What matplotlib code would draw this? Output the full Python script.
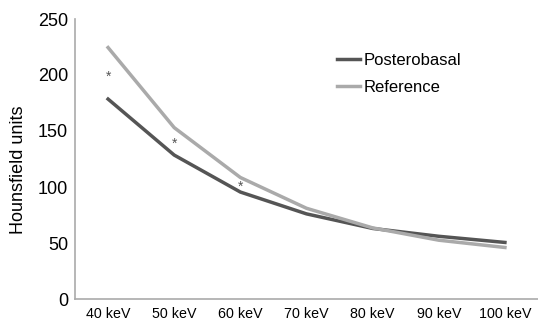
import matplotlib
matplotlib.use("Agg")
import matplotlib.pyplot as plt

plt.rcParams['font.family'] = ['Liberation Sans', 'DejaVu Sans']

energies = ["40 keV", "50 keV", "60 keV", "70 keV", "80 keV", "90 keV", "100 keV"]
posterobasal = [178.5, 128.5, 95.5, 76, 63, 56, 50.5]
reference = [224.5, 153, 108.5, 81, 63.5, 52.5, 46]
star_idx = [0, 1, 2]
star_vals = [198, 139, 100]

fig = plt.figure(figsize=(5.38, 3.23), dpi=100)
ax = fig.add_axes([75 / 538, 24 / 323, 463 / 538, 280 / 323])

x = list(range(len(energies)))
ax.plot(x, posterobasal, color="#555555", lw=2.5, label="Posterobasal")
ax.plot(x, reference, color="#aaaaaa", lw=2.5, label="Reference")
for i, v in zip(star_idx, star_vals):
    ax.text(i, v, "*", ha="center", va="center", fontsize=10, color="#555555")

ax.set_xlim(-0.5, len(energies) - 0.5)
ax.set_ylim(0, 250)
ax.set_yticks([0, 50, 100, 150, 200, 250])
ax.set_xticks(x)
ax.set_xticklabels(energies, fontsize=10.3)
ax.tick_params(axis="y", labelsize=13, length=0, pad=5)
ax.tick_params(axis="x", length=0, pad=6)
ax.set_ylabel("Hounsfield units", fontsize=13)
ax.yaxis.set_label_coords(-0.104, 0.462)

for s in ["top", "right"]:
    ax.spines[s].set_visible(False)
for s in ["left", "bottom"]:
    ax.spines[s].set_color("#aaaaaa")
    ax.spines[s].set_linewidth(1.2)

ax.legend(loc="upper left", bbox_to_anchor=(0.566, 0.88), frameon=False,
          borderpad=0, borderaxespad=0,
          fontsize=12, handlelength=1.4, handletextpad=0.2, labelspacing=0.75)

fig.savefig("out.png", dpi=100)
